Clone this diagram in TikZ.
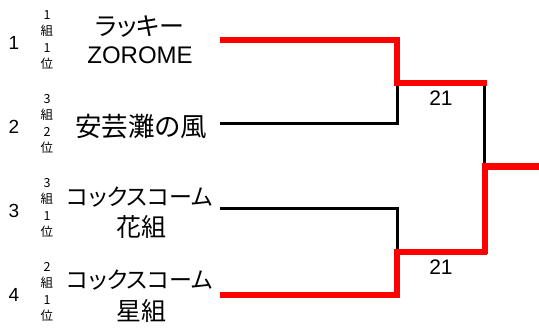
\documentclass[tikz,border=0pt]{standalone}
\usepackage{fontspec}
\setmainfont{Liberation Sans}
\newfontfamily\jp[RawFeature=+palt]{Noto Sans CJK JP}
\newfontfamily\jpm{Noto Sans CJK JP}
\begin{document}
\begin{tikzpicture}[x=1pt,y=-1pt,
  win/.style={draw=red, line width=6pt, line join=miter},
  lose/.style={draw=black, line width=3pt, line join=miter},
  seed/.style={inner sep=0pt, font=\fontsize{19}{19}\selectfont},
  grp/.style={inner sep=0pt, align=center, font=\jpm\fontsize{12.5}{16.5}\selectfont},
  team/.style={inner sep=0pt, font=\jp\fontsize{25}{25}\selectfont},
  kanji/.style={inner sep=0pt, font=\jp\fontsize{26.5}{26.5}\selectfont},
  kata/.style={inner sep=0pt, font=\jp\fontsize{23}{23}\selectfont},
  latin/.style={inner sep=0pt, font=\fontsize{24}{24}\selectfont},
  score/.style={inner sep=0pt, font=\fontsize{21}{21}\selectfont}]
\useasboundingbox (0,0) rectangle (539,329);

% seeds
\node[seed] (s1) at (14,43) {1};
\node[seed] (s2) at (14,127) {2};
\node[seed] (s3) at (14,211) {3};
\node[seed] (s4) at (14,295) {4};

% group / rank
\node[grp] (g1) at (47,40) {1\\組\\1\\位};
\node[grp] (g2) at (47,124) {3\\組\\2\\位};
\node[grp] (g3) at (47,208) {3\\組\\1\\位};
\node[grp] (g4) at (47,292) {2\\組\\1\\位};

% team names
\node[team] (t1a) at (140,27) {ラッキー};
\node[latin] (t1b) at (140,55) {ZOROME};
\node[kanji] (t2) at (141,127) {安芸灘の風};
\node[kata] (t3a) at (140,197) {コックスコーム};
\node[team] (t3b) at (141,227) {花組};
\node[kata] (t4a) at (140,280) {コックスコーム};
\node[team] (t4b) at (141,311) {星組};

% bracket coordinates
\coordinate (e1) at (220,40.5);
\coordinate (e2) at (220,124);
\coordinate (e3) at (220,208.5);
\coordinate (e4) at (220,294.5);
\coordinate (j1) at (397,83.5);
\coordinate (j2) at (397,251.5);
\coordinate (f1) at (484.5,83.5);
\coordinate (f2) at (484.5,251.5);
\coordinate (fm) at (484.5,166.5);
\coordinate (out) at (539,166.5);

% losers (black)
\draw[lose] (e2) -| (j1);
\draw[lose] (e3) -| (j2);
\draw[lose] (f1) -- (fm);

% winners (red)
\draw[win] (e1) -| (j1) -- ([xshift=2.5pt]f1);
\draw[win] (e4) -| (j2) -- ([xshift=2.5pt]f2);
\draw[win] ([yshift=-2.5pt]f2) -- (fm) -- (out);

% scores
\node[score] (sc1) at (441,98) {21};
\node[score] (sc2) at (441,267) {21};
\end{tikzpicture}
\end{document}
